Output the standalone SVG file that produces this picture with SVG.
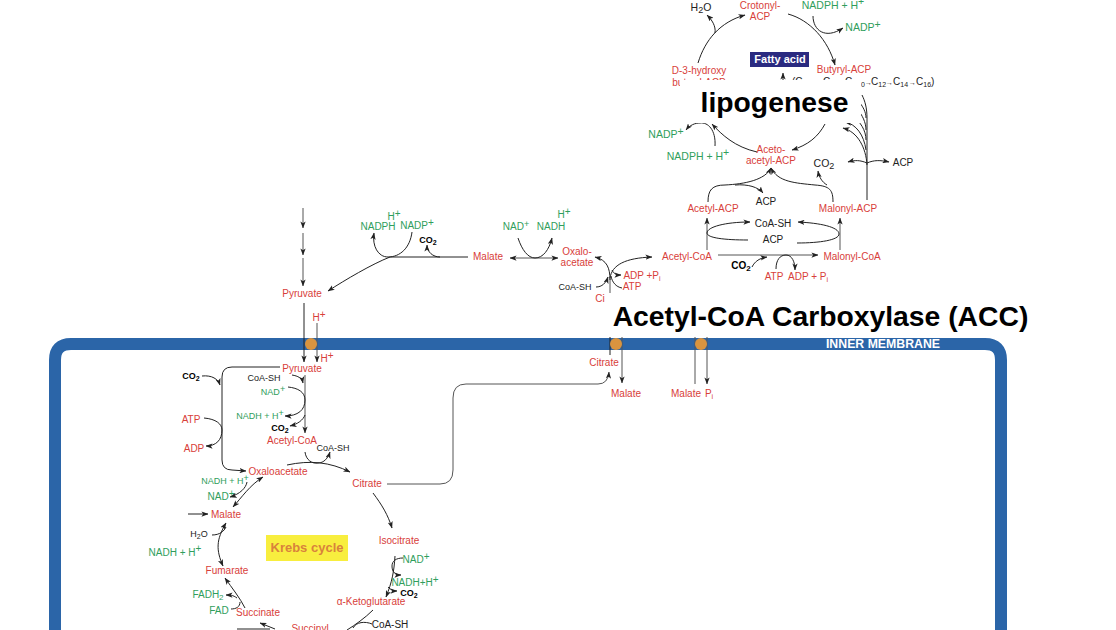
<svg xmlns="http://www.w3.org/2000/svg" width="1116" height="630" viewBox="0 0 1116 630">
<style>
text{font-family:"Liberation Sans",Arial,sans-serif;font-size:10px;text-anchor:middle}
.r{fill:#d8403a}.g{fill:#2f9e5c}.k{fill:#222}.b{font-weight:bold;fill:#000}
.l{font-size:10.5px}.s{font-size:9px}
.t{font-size:28.3px;font-weight:bold;fill:#000}
path,line{fill:none;stroke:#222;stroke-width:1}
.a{marker-end:url(#ah)}.d{marker-start:url(#ahs);marker-end:url(#ah)}
.m{stroke:#555}.port{fill:#d9943f;stroke:none}
</style>
<defs>
<marker id="ah" viewBox="0 0 8 6" refX="7.5" refY="3" markerWidth="7" markerHeight="5.5" markerUnits="userSpaceOnUse" orient="auto"><polygon points="0,0 8,3 0,6 2,3" fill="#222"/></marker>
<marker id="ahs" viewBox="0 0 8 6" refX="0.5" refY="3" markerWidth="7" markerHeight="5.5" markerUnits="userSpaceOnUse" orient="auto"><polygon points="8,0 0,3 8,6 6,3" fill="#222"/></marker>
</defs>
<rect width="1116" height="630" fill="#fff"/>
<g id="membrane">
<path d="M55,640V360Q55,344 71,344H985Q1001,344 1001,360V640" style="fill:none;stroke:#2b65a8;stroke-width:12"/>
<text x="883" y="348" style="font-size:12.3px;font-weight:bold;fill:#fff">INNER MEMBRANE</text>
</g>
<g id="connectors">
<path class="a" d="M698,63C705,40 720,22 745,15"/>
<path class="a" d="M715,33C716,26 712,20 707,15"/>
<path class="a" d="M788,14C810,20 828,40 835,65"/>
<path class="a" d="M813,16C813,30 825,40 843,28"/>
<path class="a" d="M783,80V73"/>
<path class="a" d="M825,124C818,137 808,145 792,150"/>
<path class="a" d="M757,152C735,147 722,135 712,124"/>
<path class="a" d="M715,146C716,130 708,122 700,123C695,123 690,125 686,130"/>
<path d="M867,200V118C867,108 865,101 862,95"/>
<path d="M866,118C866,112 863,107 860,103M866,130C866,122 862,115 858,110M866,140C866,130 860,122 854,117"/>
<path class="a" d="M867,165C866,148 858,132 843,128"/>
<path class="a" d="M866,150C864,135 856,124 845,122"/>
<path class="a" d="M867,163C860,160 855,160 848,162"/>
<path class="a" d="M867,163C874,160 880,160 889,162"/>
<path class="a" d="M708,202C708,190 712,185 725,185C745,184 765,180 771,168"/>
<path class="a" d="M833,202C833,190 830,186 815,185C795,183 778,182 771,168"/>
<path class="a" d="M735,185C748,184 758,187 763,193"/>
<path class="a" d="M827,185C822,182 819,177 818,171"/>
<path class="a m" d="M707,250V218"/>
<path class="a m" d="M840,250V218"/>
<path class="a" d="M748,240C725,240 707,238 707,233C707,227 725,222 750,222"/>
<path class="a" d="M797,243C820,243 839,240 839,234C839,227 820,223 798,222"/>
<path class="a m" d="M718,255H818"/>
<path class="a" d="M752,267C755,261 760,258 767,257"/>
<path class="a" d="M776,269C776,260 780,255 786,255C792,255 795,262 795,270"/>
<path class="a" d="M610,278C612,265 625,258 652,257"/>
<line class="m" x1="610" y1="277" x2="610" y2="293"/>
<path class="a" d="M610,280C610,268 607,260 595,257"/>
<path class="a" d="M596,287C602,287 606,283 608,277"/>
<path class="a" d="M612,270C614,274 616,275 621,275"/>
<path d="M622,288C616,287 612,282 611,276"/>
<path d="M468,257H390"/>
<path class="a" d="M390,257C372,264 345,280 328,291"/>
<path class="a" d="M412,232C410,248 400,257 388,257C378,257 372,246 374,233"/>
<path class="a" d="M440,257C433,257 427,252 427,245"/>
<path class="d m" d="M510,258H558"/>
<path class="a" d="M518,238C522,250 528,258 535,258C543,258 549,250 552,238"/>
<path class="a m" d="M303,208V228"/>
<path class="a m" d="M303,233V255"/>
<path class="a m" d="M303,258V286"/>
<path class="a" d="M304,303V362"/>
<path class="a m" d="M317,323V362"/>
<path class="a" d="M280,367H232Q222,367 222,377V460Q222,470 232,470L246,471"/>
<path class="a" d="M202,376C212,375 218,379 220,385"/>
<path class="a" d="M204,418C216,419 222,424 222,430C222,440 216,446 206,446"/>
<path class="a m" d="M305,375V433"/>
<path class="a" d="M292,375C298,376 302,378 303,383"/>
<path class="a" d="M288,387C298,388 305,392 305,400C305,410 298,416 285,416"/>
<path class="a" d="M305,415C303,420 298,424 290,426"/>
<path class="a" d="M305,452C306,460 312,464 318,463C324,463 328,458 330,452"/>
<path class="a" d="M287,465C310,460 330,462 350,472"/>
<path class="m" d="M387,484H440Q453,484 453,470V398Q453,384 466,384H598Q608,384 609,372" style="marker-end:url(#ah)"/>
<path class="a" d="M373,493C382,505 388,515 392,528"/>
<path class="d" d="M263,477C250,485 242,497 233,507"/>
<path class="a" d="M247,482C246,488 240,494 230,497"/>
<path class="a" d="M188,514H208"/>
<path class="d" d="M226,523C216,540 216,550 223,566"/>
<path d="M212,535C220,535 224,531 226,527"/>
<path class="a" d="M245,608C240,598 232,588 225,578"/>
<path class="a" d="M237,598C233,595 230,595 226,595"/>
<path d="M231,609C236,609 240,607 240,602"/>
<path class="a" d="M395,556C394,572 392,582 386,597"/>
<path d="M403,558C396,558 392,561 392,566"/>
<path class="a" d="M392,566C392,572 395,575 401,575"/>
<path class="a" d="M388,587C391,590 393,591 397,591"/>
<path d="M373,610C365,618 355,625 347,630"/>
<path d="M372,624C365,621 356,622 353,628"/>
<path class="a" d="M275,629C270,627 265,625 260,623"/>
<path d="M237,629H270" style="stroke-width:1.2"/>
<line x1="610" y1="337" x2="610" y2="355"/>
<path class="a m" d="M622,337V383"/>
<line class="m" x1="695" y1="337" x2="695" y2="384"/>
<path class="a m" d="M707,337V384"/>
</g>
<g id="ports">
<circle class="port" cx="311" cy="344" r="6"/>
<circle class="port" cx="616" cy="344" r="6"/>
<circle class="port" cx="701" cy="344" r="6"/>
</g>
<g id="n-h2o-top"><text class="k l" x="701" y="11">H<tspan class="s" dy="2">2</tspan><tspan dy="-2">O</tspan></text></g>
<g id="n-crotonyl"><text class="r" x="760" y="9">Crotonyl-</text><text class="r" x="760" y="20">ACP</text></g>
<g id="n-nadph-top"><text class="g l" x="833" y="9">NADPH + H<tspan dy="-4">+</tspan></text></g>
<g id="n-nadp-top"><text class="g l" x="863" y="31">NADP<tspan dy="-3">+</tspan></text></g>
<g id="n-butyryl"><text class="r" x="844" y="73">Butyryl-ACP</text></g>
<g id="n-hydroxy"><text class="r" x="699" y="74">D-3-hydroxy</text><text class="r" x="699" y="86">butyryl-ACP</text></g>
<g id="n-chain"><text class="k" style="text-anchor:start" y="85"><tspan x="792">(C</tspan><tspan x="812">→</tspan><tspan x="823">C</tspan><tspan x="834">→</tspan><tspan x="845">C</tspan><tspan font-size="7" x="861" dy="2">0</tspan><tspan x="865" dy="-2" font-size="7">→</tspan><tspan x="871">C</tspan><tspan font-size="7" dy="2">12</tspan><tspan x="886" dy="-2" font-size="7">→</tspan><tspan x="893">C</tspan><tspan font-size="7" dy="2">14</tspan><tspan x="909" dy="-2" font-size="7">→</tspan><tspan x="916">C</tspan><tspan font-size="7" dy="2">16</tspan><tspan dy="-2">)</tspan></text></g>
<g id="n-fatty"><rect x="750" y="52" width="59" height="15" fill="#2a2a80"/><text x="780" y="63" style="font-size:11px;font-weight:bold;fill:#fff">Fatty acid</text></g>
<g id="n-lipogenese"><rect x="680" y="80" width="181" height="43" fill="#fff"/><text class="t" x="774.5" y="112">lipogenese</text></g>
<g id="n-nadp-l"><text class="g l" x="666" y="138">NADP<tspan dy="-3">+</tspan></text></g>
<g id="n-nadph-l"><text class="g l" x="698" y="160">NADPH + H<tspan dy="-4">+</tspan></text></g>
<g id="n-aceto"><text class="r" x="771" y="153">Aceto-</text><text class="r" x="771" y="164">acetyl-ACP</text></g>
<g id="n-co2-a"><text class="k l" x="824" y="167">CO<tspan class="s" dy="2">2</tspan></text></g>
<g id="n-acp-a"><text class="k" x="903" y="166">ACP</text></g>
<g id="n-acp-b"><text class="k" x="766" y="205">ACP</text></g>
<g id="n-acetyl-acp"><text class="r" x="713" y="212">Acetyl-ACP</text></g>
<g id="n-malonyl-acp"><text class="r" x="848" y="212">Malonyl-ACP</text></g>
<g id="n-coash-a"><text class="k" x="773" y="227">CoA-SH</text></g>
<g id="n-acp-c"><text class="k" x="773" y="243">ACP</text></g>
<g id="n-acetyl-coa"><text class="r" x="687" y="260">Acetyl-CoA</text></g>
<g id="n-malonyl-coa"><text class="r" x="852" y="260">Malonyl-CoA</text></g>
<g id="n-co2-b"><text class="b" x="741" y="269">CO<tspan font-size="8" dy="2">2</tspan></text></g>
<g id="n-atp-a"><text class="r" x="774" y="280">ATP</text></g>
<g id="n-adp-a"><text class="r" x="808" y="280">ADP + P<tspan font-size="7" dy="2">i</tspan></text></g>
<g id="n-adp-b"><text class="r" x="642" y="279">ADP +P<tspan font-size="7" dy="2">i</tspan></text></g>
<g id="n-atp-b"><text class="r" x="632" y="290">ATP</text></g>
<g id="n-coash-b"><text class="k s" x="575" y="290">CoA-SH</text></g>
<g id="n-ci"><text class="r" x="600" y="302">Ci</text></g>
<g id="n-oxalo"><text class="r" x="577" y="255">Oxalo-</text><text class="r" x="577" y="266">acetate</text></g>
<g id="n-malate-c"><text class="r" x="488" y="260">Malate</text></g>
<g id="n-nad"><text class="g" x="516" y="230">NAD<tspan dy="-3" font-size="9">+</tspan></text></g>
<g id="n-nadh"><text class="g" x="551" y="230">NADH</text></g>
<g id="n-h-a"><text class="g" x="564" y="218">H<tspan dy="-3">+</tspan></text></g>
<g id="n-nadph"><text class="g" x="378" y="230">NADPH</text></g>
<g id="n-h-b"><text class="g" x="394" y="220">H<tspan dy="-3">+</tspan></text></g>
<g id="n-nadp"><text class="g" x="417" y="229">NADP<tspan dy="-3">+</tspan></text></g>
<g id="n-co2-c"><text class="b s" x="428" y="243">CO<tspan font-size="7" dy="2">2</tspan></text></g>
<g id="n-pyruvate-c"><text class="r" x="302" y="297">Pyruvate</text></g>
<g id="n-h-c"><text class="r" x="319" y="321">H<tspan dy="-3">+</tspan></text></g>
<g id="n-acc"><text class="t" x="820.5" y="326">Acetyl-CoA Carboxylase (ACC)</text></g>
<g id="n-h-d"><text class="r" x="327" y="362">H<tspan dy="-3">+</tspan></text></g>
<g id="n-pyruvate-m"><text class="r" x="302" y="372">Pyruvate</text></g>
<g id="n-citrate-o"><text class="r" x="604" y="366">Citrate</text></g>
<g id="n-malate-o"><text class="r" x="626" y="397">Malate</text></g>
<g id="n-malate-p"><text class="r" x="686" y="397">Malate</text></g>
<g id="n-pi"><text class="r" x="709" y="397">P<tspan font-size="7" dy="2">i</tspan></text></g>
<g id="n-co2-d"><text class="b s" x="191" y="379">CO<tspan font-size="7" dy="2">2</tspan></text></g>
<g id="n-coash-c"><text class="k s" x="264" y="381">CoA-SH</text></g>
<g id="n-nad-m"><text class="g s" x="273" y="395">NAD<tspan dy="-3">+</tspan></text></g>
<g id="n-nadh-m"><text class="g s" x="260" y="419">NADH + H<tspan dy="-3">+</tspan></text></g>
<g id="n-co2-e"><text class="b s" x="280" y="431">CO<tspan font-size="7" dy="2">2</tspan></text></g>
<g id="n-atp-m"><text class="r" x="191" y="423">ATP</text></g>
<g id="n-adp-m"><text class="r" x="194" y="452">ADP</text></g>
<g id="n-acetyl-m"><text class="r" x="292" y="444">Acetyl-CoA</text></g>
<g id="n-coash-d"><text class="k s" x="333" y="451">CoA-SH</text></g>
<g id="n-oxalo-m"><text class="r" x="278" y="475">Oxaloacetate</text></g>
<g id="n-citrate-m"><text class="r" x="367" y="487">Citrate</text></g>
<g id="n-nadh-k"><text class="g s" x="225" y="484">NADH + H<tspan dy="-3">+</tspan></text></g>
<g id="n-nad-k"><text class="g" x="221" y="500">NAD<tspan dy="-3">+</tspan></text></g>
<g id="n-malate-k"><text class="r" x="226" y="518">Malate</text></g>
<g id="n-h2o-k"><text class="k s" x="199" y="537">H<tspan font-size="7" dy="2">2</tspan><tspan dy="-2">O</tspan></text></g>
<g id="n-nadh-f"><text class="g" x="175" y="556">NADH + H<tspan dy="-4">+</tspan></text></g>
<g id="n-krebs"><rect x="266" y="535" width="82" height="26" fill="#f8ee3e"/><text x="307" y="552" style="font-size:13px;font-weight:bold;fill:#d9823c">Krebs cycle</text></g>
<g id="n-isocitrate"><text class="r" x="399" y="544">Isocitrate</text></g>
<g id="n-nad-i"><text class="g" x="416" y="563">NAD<tspan dy="-3">+</tspan></text></g>
<g id="n-nadh-i"><text class="g" x="415" y="586">NADH+H<tspan dy="-3">+</tspan></text></g>
<g id="n-co2-f"><text class="b s" x="409" y="596">CO<tspan font-size="7" dy="2">2</tspan></text></g>
<g id="n-fumarate"><text class="r" x="227" y="574">Fumarate</text></g>
<g id="n-fadh"><text class="g" x="208" y="598">FADH<tspan font-size="8" dy="2">2</tspan></text></g>
<g id="n-fad"><text class="g" x="219" y="614">FAD</text></g>
<g id="n-succinate"><text class="r" x="258" y="616">Succinate</text></g>
<g id="n-keto"><text class="r" x="371" y="605">α-Ketoglutarate</text></g>
<g id="n-coash-e"><text class="k" x="390" y="628">CoA-SH</text></g>
<g id="n-succinyl"><text class="r" x="310" y="632">Succinyl</text></g>
</svg>
